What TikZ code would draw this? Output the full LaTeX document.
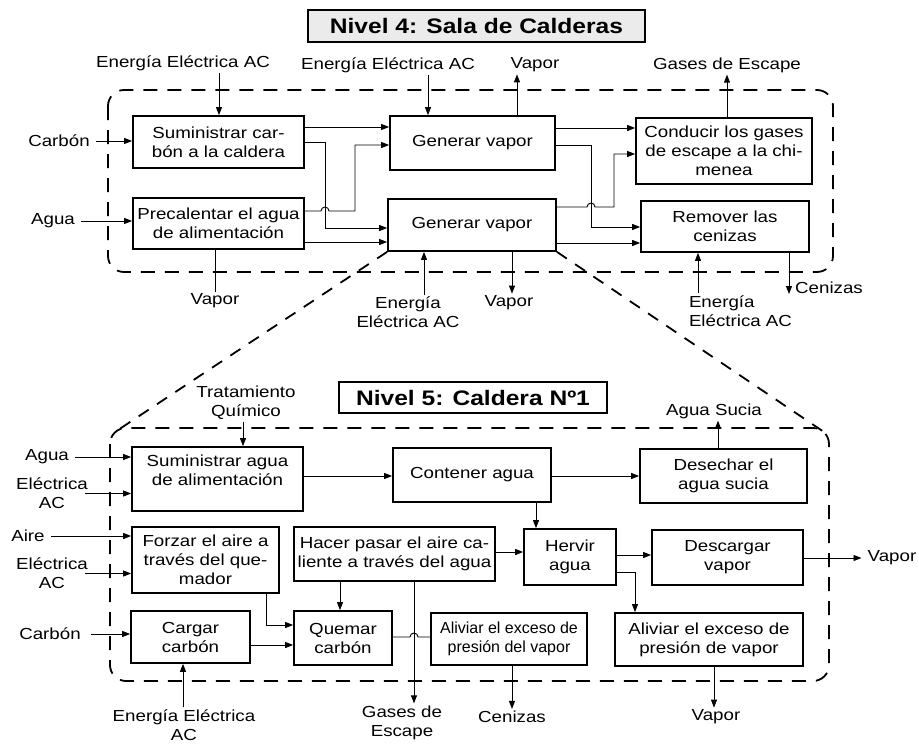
\documentclass[tikz,border=0pt]{standalone}
\usepackage{fontspec}
\setmainfont{Liberation Sans}[FakeStretch=1.17]
\newfontfamily\condfont{Liberation Sans}[FakeStretch=1.0]
\usetikzlibrary{arrows.meta}

\begin{document}
\begin{tikzpicture}[x=1pt,y=-1pt,
  every node/.style={font=\fontsize{16}{19}\selectfont, inner xsep=6pt, inner ysep=2pt, align=center},
  box/.style={draw, line width=1.7pt, inner sep=0pt},
  flow/.style={line width=0.9pt, -{Triangle[length=8pt,width=6pt]}},
  plain/.style={line width=0.9pt},
  frame/.style={line width=1.8pt, dash pattern=on 14pt off 10pt, rounded corners=16pt},
  zoomline/.style={line width=1.8pt, dash pattern=on 12pt off 10pt},
  title/.style={draw, line width=1.8pt, inner sep=0pt,
    font=\fontsize{21}{24}\selectfont\bfseries}]

\useasboundingbox (0,0) rectangle (919,744);

% ---------------- Level 4: boiler room ----------------
\node[title, fill=gray!16, minimum width=337, minimum height=32] (t4) at (476.5,26) {Nivel 4: Sala de Calderas};
\draw[frame] (108,90) rectangle (833,272);

\node[box, minimum width=171, minimum height=52] (sc) at (218.5,142) {Suministrar car-\\bón a la caldera};
\node[box, minimum width=171, minimum height=51] (pa) at (218.5,223.5) {Precalentar el agua\\de alimentación};
\node[box, minimum width=165, minimum height=54] (g1) at (472.5,143) {Generar vapor};
\node[box, minimum width=168, minimum height=52] (g2) at (472,225) {Generar vapor};
\node[box, minimum width=176, minimum height=66] (cg) at (724,151) {Conducir los gases\\de escape a la chi-\\menea};
\node[box, minimum width=168, minimum height=51] (rc) at (725,226.5) {Remover las\\cenizas};

\node (le1) at (183,63) {Energía Eléctrica AC};
\node (lcarb1) at (59,141) {Carbón};
\node (lagua1) at (53,221) {Agua};
\node (lvap1) at (215,301) {Vapor};
\node (le2) at (388,65) {Energía Eléctrica AC};
\node (lvap2) at (535,65) {Vapor};
\node (lgas1) at (727,65) {Gases de Escape};
\node (le3) at (408,312.5) {Energía\\Eléctrica AC};
\node (lvap3) at (509,303) {Vapor};
\node[align=left] (le4) at (740.5,311) {Energía\\Eléctrica AC};
\node (lcen1) at (829,288) {Cenizas};

\draw[flow] (le1.south -| 219,0) -- (sc.north -| 219,0);
\draw[flow] (lcarb1.east) -- (lcarb1.east -| sc.west);
\draw[flow] (lagua1.east) -- (lagua1.east -| pa.west);
\draw[plain] (pa.south -| lvap1.north) -- (lvap1.north);
\draw[flow] (sc.east |- 0,127) -- (g1.west |- 0,127);
\draw[flow] (sc.east |- 0,142) -- (325,142) -- (325,228) -- (g2.west |- 0,228);
\draw[flow] (pa.east |- 0,211) -- (321,211) arc[start angle=180, end angle=360, radius=4]
  -- (355,211) -- (355,145) -- (g1.west |- 0,145);
\draw[flow] (pa.east |- 0,242) -- (g2.west |- 0,242);
\draw[flow] (le2.south -| 428,0) -- (g1.north -| 428,0);
\draw[flow] (g1.north -| 517,0) -- (lvap2.south -| 517,0);
\draw[flow] (cg.north -| lgas1.south) -- (lgas1.south);
\draw[flow] (g1.east |- 0,128) -- (cg.west |- 0,128);
\draw[flow] (g1.east |- 0,145) -- (591,145) -- (591,227) -- (rc.west |- 0,227);
\draw[flow] (g2.east |- 0,207) -- (587,207) arc[start angle=180, end angle=360, radius=4]
  -- (614,207) -- (614,154) -- (cg.west |- 0,154);
\draw[flow] (g2.east |- 0,243) -- (rc.west |- 0,243);
\draw[flow] (le3.north -| 424,0) -- (g2.south -| 424,0);
\draw[flow] (g2.south -| 512,0) -- (lvap3.north -| 512,0);
\draw[flow] (le4.north -| 698,0) -- (rc.south -| 698,0);
\draw[flow] (rc.south -| lcen1.west) -- (lcen1.west |- 0,294);

% ---------------- zoom lines to level 5 ----------------
\coordinate (f5nw) at (115,432);
\coordinate (f5ne) at (824,432);
\draw[zoomline] (g2.south west) -- (f5nw);
\draw[zoomline] (g2.south east) -- (f5ne);

% ---------------- Level 5: boiler no. 1 ----------------
\node[title, fill=white, minimum width=268, minimum height=31] (t5) at (473,397.5) {Nivel 5: Caldera Nº1};
\draw[frame] (110,428) rectangle (829,681);

\node[box, minimum width=171, minimum height=64, text depth=18pt] (sa) at (217.5,479) {Suministrar agua\\de alimentación};
\node[box, minimum width=158, minimum height=54] (ca) at (472,475) {Contener agua};
\node[box, minimum width=167, minimum height=54] (ds) at (723.5,476) {Desechar el\\agua sucia};
\node[box, minimum width=147, minimum height=66] (fa) at (205.5,560) {Forzar el aire a\\través del que-\\mador};
\node[box, minimum width=201, minimum height=54] (hp) at (394.5,554) {Hacer pasar el aire ca-\\liente a través del agua};
\node[box, minimum width=92, minimum height=56] (ha) at (570,557) {Hervir\\agua};
\node[box, minimum width=151, minimum height=55] (dv) at (727.5,557.5) {Descargar\\vapor};
\node[box, minimum width=119, minimum height=52] (cc) at (190.5,637) {Cargar\\carbón};
\node[box, minimum width=98, minimum height=54] (qc) at (343,638) {Quemar\\carbón};
\node[box, minimum width=156, minimum height=52, font=\condfont\fontsize{16}{19}\selectfont] (am) at (509,639) {Aliviar el exceso de\\presión del vapor};
\node[box, minimum width=188, minimum height=53] (ar) at (709,639.5) {Aliviar el exceso de\\presión de vapor};

\node (ltq) at (246,402.5) {Tratamiento\\Químico};
\node (lagua2) at (47,457) {Agua};
\node (lel1) at (52,493.5) {Eléctrica\\AC};
\node (laire) at (28,536) {Aire};
\node (lel2) at (52,573.5) {Eléctrica\\AC};
\node (lcarb2) at (50,634) {Carbón};
\node (le5) at (184,725) {Energía Eléctrica\\AC};
\node (lsucia) at (714,411) {Agua Sucia};
\node (lgas2) at (402,722.5) {Gases de\\Escape};
\node (lcen2) at (512,717) {Cenizas};
\node (lvap4) at (892,558) {Vapor};
\node (lvap5) at (716,717) {Vapor};

\draw[flow] (ltq.south -| 243,0) -- (sa.north -| 243,0);
\draw[flow] (lagua2.east) -- (lagua2.east -| sa.west);
\draw[flow] ([xshift=-9pt]lel1.east) -- (lel1.east -| sa.west);
\draw[flow] (laire.east) -- (laire.east -| fa.west);
\draw[flow] ([xshift=-9pt]lel2.east) -- (lel2.east -| fa.west);
\draw[flow] ([xshift=4pt]lcarb2.east) -- (lcarb2.east -| cc.west);
\draw[flow] (le5.north -| 183,0) -- (cc.south -| 183,0);
\draw[flow] (sa.east |- 0,476) -- (ca.west |- 0,476);
\draw[flow] (ca.east |- 0,476) -- (ds.west |- 0,476);
\draw[flow] (ds.north -| 718,0) -- (lsucia.south -| 718,0);
\draw[flow] (ca.south -| 536,0) -- (ha.north -| 536,0);
\draw[flow] (hp.east |- 0,552) -- (ha.west |- 0,552);
\draw[flow] (hp.south -| 340,0) -- (qc.north -| 340,0);
\draw[flow] (hp.south -| 414,0) -- (lgas2.north -| 414,0);
\draw[flow] (fa.south -| 266,0) -- (266,625) -- (qc.west |- 0,625);
\draw[flow] (cc.east |- 0,645) -- (qc.west |- 0,645);
\draw[plain] (qc.east |- 0,637) -- (410,637) arc[start angle=180, end angle=360, radius=4]
  -- (am.west |- 0,637);
\draw[flow] (am.south -| 512,0) -- (lcen2.north -| 512,0);
\draw[flow] (ha.east |- 0,555) -- (dv.west |- 0,555);
\draw[flow] (ha.east |- 0,572) -- (635,572) -- (ar.north -| 635,0);
\draw[flow] (dv.east |- 0,558) -- (lvap4.west);
\draw[flow] (ar.south -| 714,0) -- (lvap5.north -| 714,0);

\end{tikzpicture}
\end{document}
